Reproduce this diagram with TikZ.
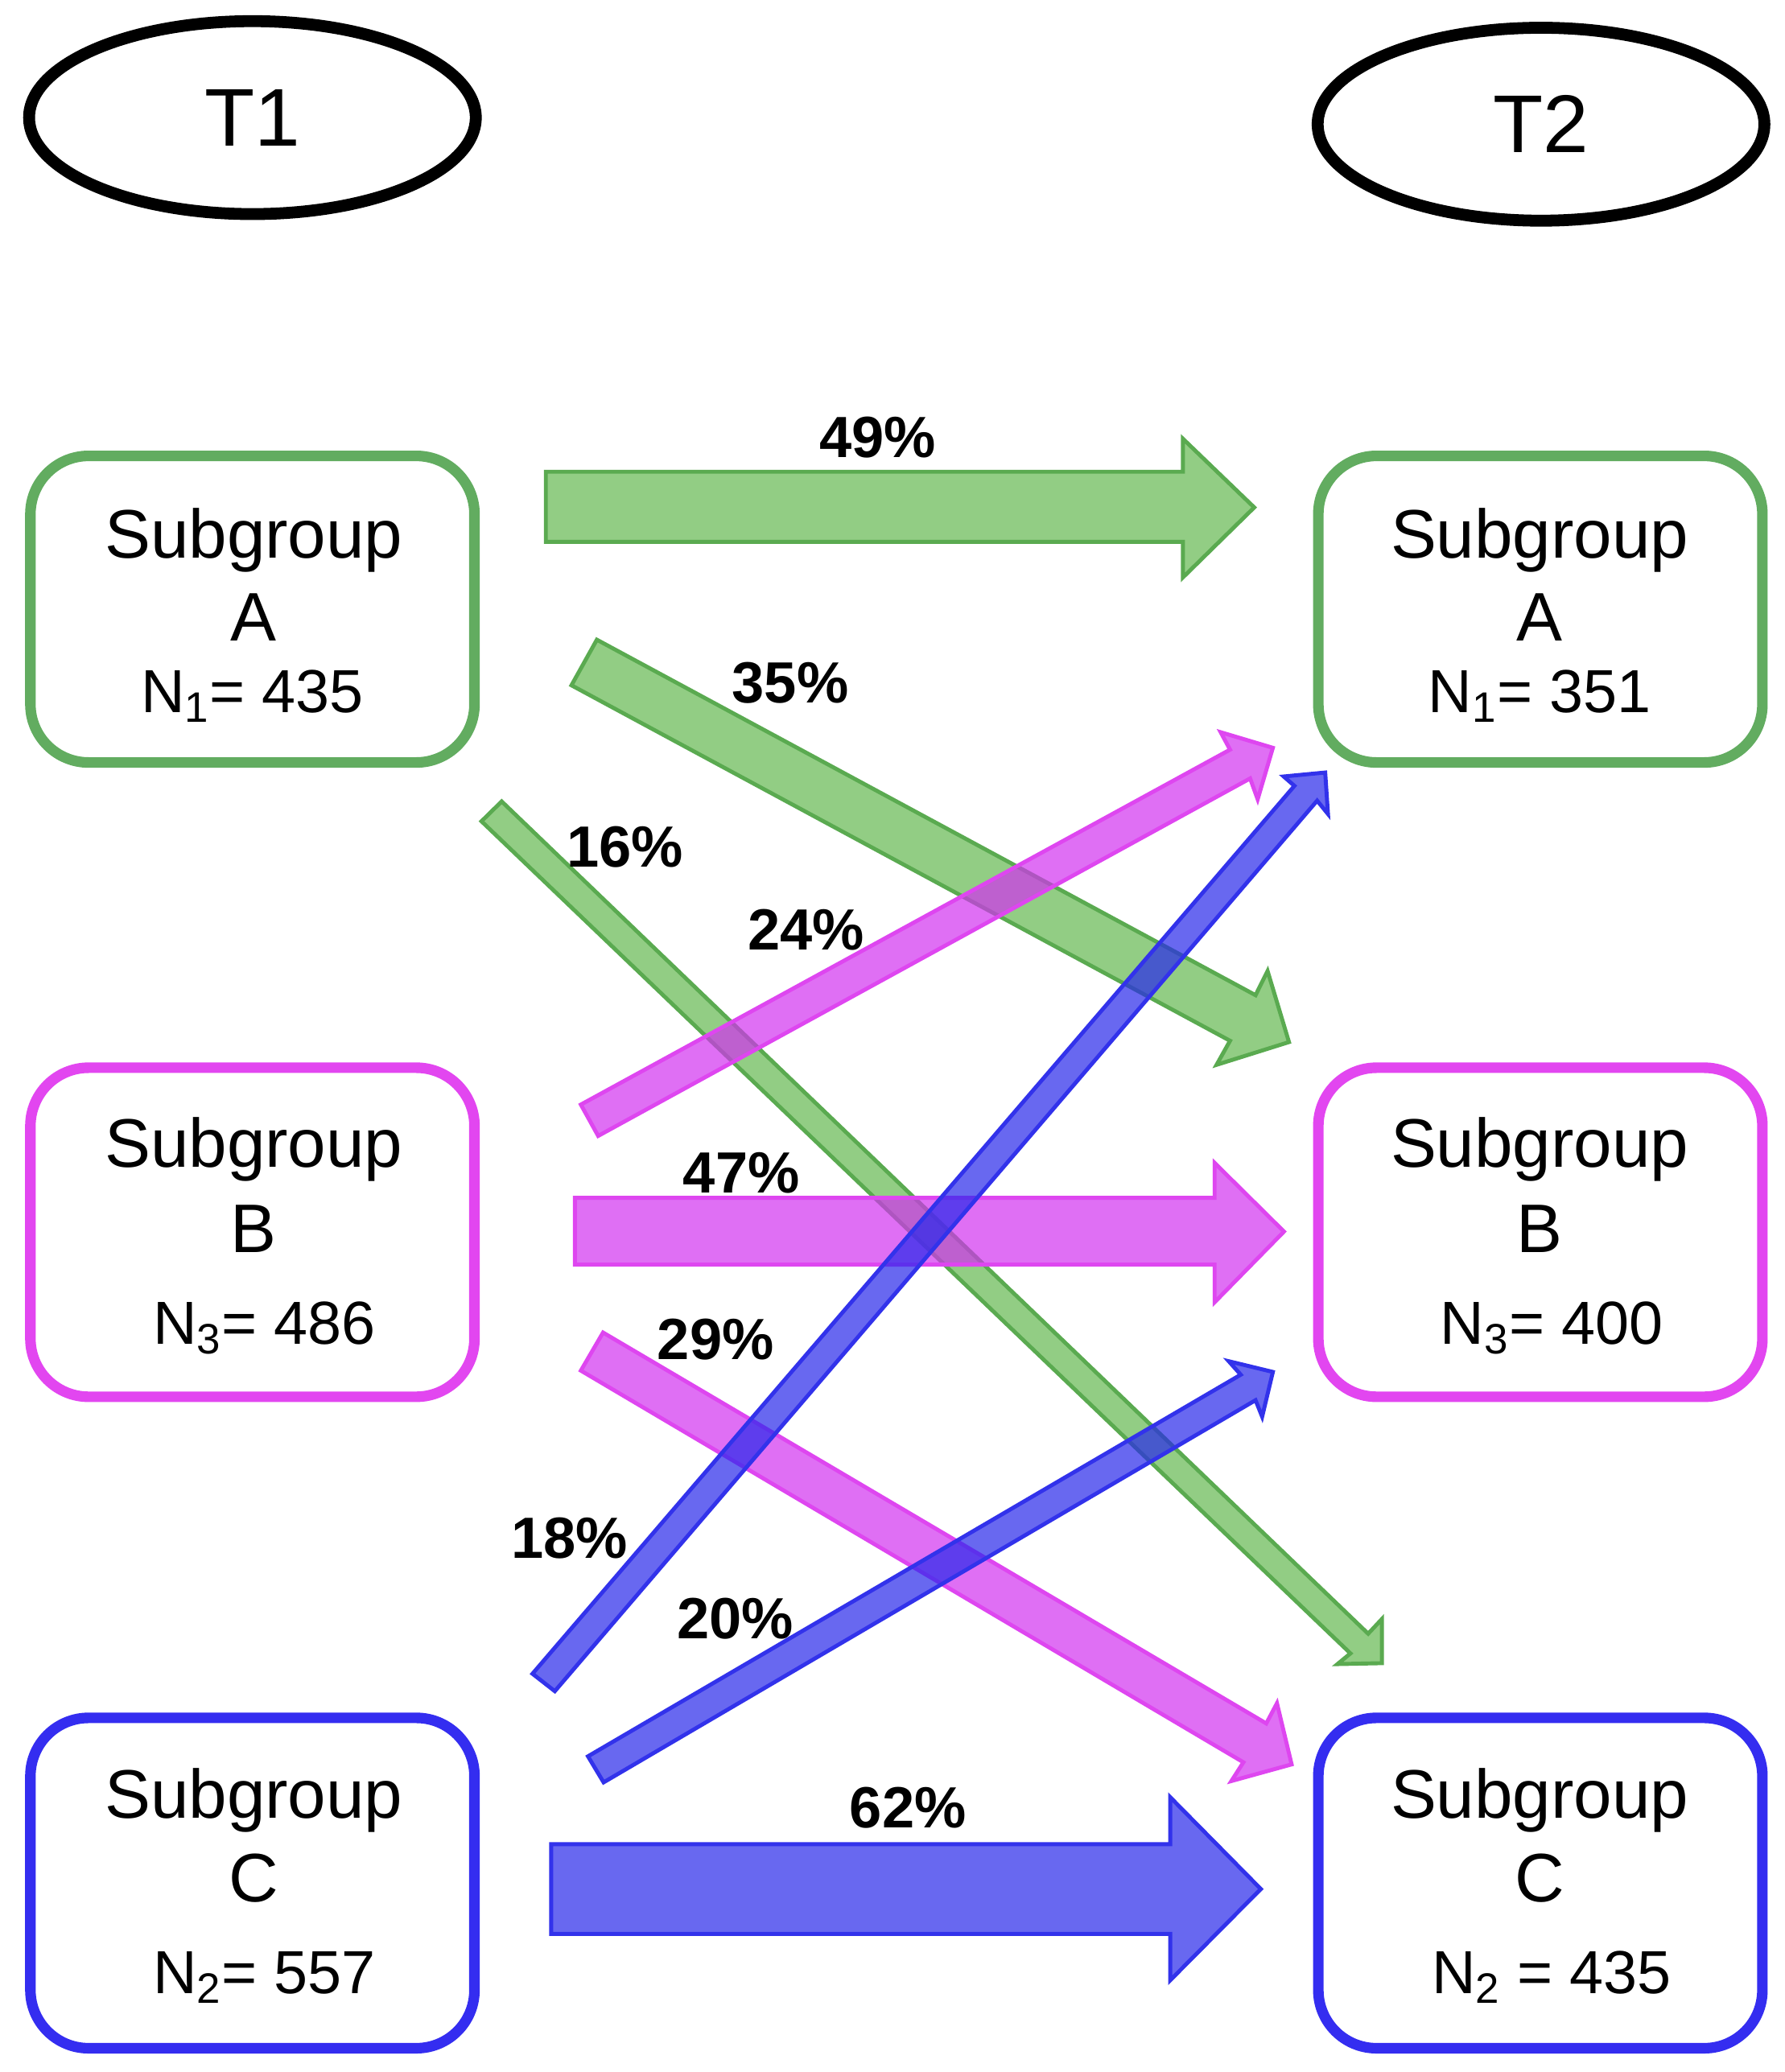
\documentclass[tikz,border=0pt]{standalone}
\usepackage{fontspec}
\setmainfont{Liberation Sans}
\usetikzlibrary{shapes.geometric}
\definecolor{gS}{RGB}{90,170,80}
\definecolor{gF}{RGB}{100,184,80}
\definecolor{mS}{RGB}{222,70,240}
\definecolor{mF}{RGB}{210,50,240}
\definecolor{bS}{RGB}{50,50,235}
\definecolor{bF}{RGB}{40,40,235}
\definecolor{gBox}{RGB}{98,172,96}
\definecolor{mBox}{RGB}{226,70,240}
\definecolor{bBox}{RGB}{52,45,240}
\begin{document}
\begin{tikzpicture}[x=0.5pt,y=-0.5pt,
  box/.style={draw, line width=4pt, rounded corners=22pt, minimum width=168pt, inner sep=0pt},
  lbl/.style={font=\fontsize{26}{30}\selectfont, anchor=base, inner sep=0pt},
  nlbl/.style={font=\fontsize{23}{27}\selectfont, anchor=base, inner sep=0pt},
  pct/.style={font=\bfseries\fontsize{22}{26}\selectfont, anchor=base, inner sep=0pt},
  tnode/.style={ellipse, draw, line width=4.5pt, minimum width=169pt, minimum height=73pt, inner sep=0pt, font=\fontsize{31}{36}\selectfont},
  garrow/.style={draw=gS, fill=gF, fill opacity=0.7, line width=1.5pt},
  marrow/.style={draw=mS, fill=mF, fill opacity=0.7, line width=1.5pt},
  barrow/.style={draw=bS, fill=bF, fill opacity=0.7, line width=1.5pt}]
\fill[white] (0,0) rectangle (1350,1568);
\useasboundingbox (0,0) rectangle (1350,1568);

% time ellipses
\node[tnode] (T1) at (191,89) {T1};
\node[tnode] (T2) at (1166,94) {T2};

% boxes
\node[box, draw=gBox, minimum height=116pt] (LA) at (191,461) {};
\node[box, draw=mBox, minimum height=124.5pt] (LB) at (191,932.5) {};
\node[box, draw=bBox, minimum height=125pt] (LC) at (191,1425) {};
\node[box, draw=gBox, minimum height=116pt] (RA) at (1165.5,461) {};
\node[box, draw=mBox, minimum height=124.5pt] (RB) at (1165.5,932.5) {};
\node[box, draw=bBox, minimum height=125pt] (RC) at (1165.5,1425) {};

% box texts
\node[lbl] (LA1) at (192,422) {Subgroup};
\node[lbl] (LA2) at (192,485) {A};
\node[nlbl] (LA3) at (191,539) {N\textsubscript{1}= 435};
\node[lbl] (LB1) at (192,883) {Subgroup};
\node[lbl] (LB2) at (192,947.5) {B};
\node[nlbl] (LB3) at (200,1017) {N\textsubscript{3}= 486};
\node[lbl] (LC1) at (192,1375.6) {Subgroup};
\node[lbl] (LC2) at (192,1439) {C};
\node[nlbl] (LC3) at (200,1508.5) {N\textsubscript{2}= 557};
\node[lbl] (RA1) at (1165,422) {Subgroup};
\node[lbl] (RA2) at (1165,485) {A};
\node[nlbl] (RA3) at (1165,539) {N\textsubscript{1}= 351};
\node[lbl] (RB1) at (1165,883) {Subgroup};
\node[lbl] (RB2) at (1165,947.5) {B};
\node[nlbl] (RB3) at (1174,1017) {N\textsubscript{3}= 400};
\node[lbl] (RC1) at (1165,1375.6) {Subgroup};
\node[lbl] (RC2) at (1165,1439) {C};
\node[nlbl] (RC3) at (1174,1508.5) {N\textsubscript{2} = 435};

% block arrows
% A -> A (49%)
\draw[garrow] (413,357) -- (895,357) -- (895,332) -- (949,384) -- (895,437) -- (895,410) -- (413,410) -- cycle;
% A -> B (35%)
\draw[garrow] (451.6,484.1) -- (950,753.1) -- (959.1,734.8) -- (975.3,788.6) -- (920.5,805.8) -- (930.7,787.6) -- (432.4,518.6) -- cycle;
% A -> C (16%)
\draw[garrow] (379.6,606.5) -- (1035.2,1236.3) -- (1045.6,1225.2) -- (1045.6,1258.6) -- (1012,1259.3) -- (1021.8,1251.2) -- (364.3,621.5) -- cycle;
% B -> A (24%)
\draw[marrow] (439.5,835.9) -- (930.7,567.3) -- (923.6,554.1) -- (963.1,565.9) -- (951.6,604.9) -- (945.9,589.1) -- (452.6,859.6) -- cycle;
% B -> B (47%)
\draw[marrow] (435,906.5) -- (919,906.5) -- (919,880) -- (971.5,932) -- (919,985.5) -- (919,957) -- (435,957) -- cycle;
% B -> C (29%)
\draw[marrow] (456.3,1008.4) -- (958.1,1304.2) -- (966.2,1288.9) -- (977.3,1335.2) -- (931.7,1347.8) -- (940.8,1333.6) -- (439.5,1037.2) -- cycle;
% C -> A (18%)
\draw[barrow] (402.9,1266.6) -- (979.4,594.7) -- (971.3,587.6) -- (1002.7,584.6) -- (1004.8,616.0) -- (996.6,605.9) -- (419.8,1279.8) -- cycle;
% C -> B (20%)
\draw[barrow] (444.9,1329.1) -- (938.8,1040.3) -- (929.7,1030.1) -- (963.1,1038.2) -- (955,1072.1) -- (950,1059.6) -- (456.7,1348.8) -- cycle;
% C -> C (62%)
\draw[barrow] (417,1395.6) -- (885.4,1395.6) -- (885.4,1360) -- (954,1429.5) -- (885.4,1498.6) -- (885.4,1463.5) -- (417,1463.5) -- cycle;

% percentages
\node[pct] (p49) at (664,346) {49\%};
\node[pct] (p35) at (598,532) {35\%};
\node[pct] (p16) at (473,656) {16\%};
\node[pct] (p24) at (610,719) {24\%};
\node[pct] (p47) at (561,903) {47\%};
\node[pct] (p29) at (541.5,1029) {29\%};
\node[pct] (p18) at (431,1179) {18\%};
\node[pct] (p20) at (556.5,1240) {20\%};
\node[pct] (p62) at (687,1383) {62\%};
\end{tikzpicture}
\end{document}
